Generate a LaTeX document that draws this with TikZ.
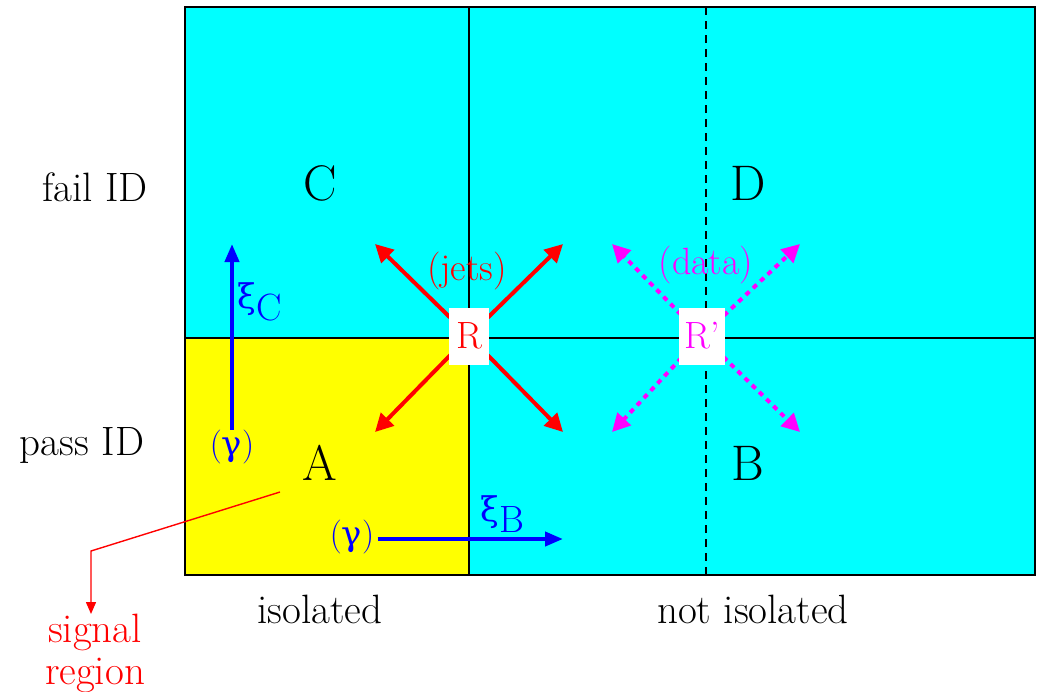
\documentclass[tikz,border=0pt]{standalone}
\usepackage{fontspec}
\newfontfamily\grk{DejaVu Serif}
\usetikzlibrary{arrows.meta}
\definecolor{cy}{RGB}{0,255,255}
\definecolor{ye}{RGB}{255,255,0}
\definecolor{mg}{RGB}{255,0,255}
\definecolor{rd}{RGB}{255,0,0}
\definecolor{bl}{RGB}{0,0,255}
\begin{document}
\begin{tikzpicture}[x=0.5pt,y=-0.5pt,
  every node/.style={inner sep=0pt,font=\fontsize{20.5}{23}\selectfont},
  frame/.style={line width=1.4pt,black},
  big/.style={font=\fontsize{25}{27}\selectfont},
  jarrow/.style={rd,line width=2pt,-{Triangle[length=9pt,width=9pt]}},
  darrow/.style={mg,line width=2pt,dash pattern=on 2.5pt off 2.5pt,-{Triangle[length=9pt,width=9pt]}},
  barrow/.style={bl,line width=2pt,-{Triangle[length=9pt,width=7pt]}},
  rbox/.style={fill=white,minimum width=20pt,minimum height=28.5pt,font=\fontsize{19}{21}\selectfont},
  mid/.style={font=\fontsize{19}{21}\selectfont},
  gam/.style={font=\fontsize{17}{19}\selectfont}]
\useasboundingbox (0,0) rectangle (1043,691);
% fills
\fill[cy] (185,7) rectangle (1035,575);
\fill[ye] (185,338) rectangle (469,575);
% grid
\draw[frame] (185,7) rectangle (1035,575);
\draw[frame] (469,7) -- (469,575);
\draw[frame] (185,338) -- (1035,338);
\draw[black,line width=0.8pt,dash pattern=on 4pt off 3pt] (706,7) -- (706,575);
% region letters
\node[big] (C) at (320,183) {C};
\node[big] (D) at (748,183) {D};
\node[big] (A) at (320,463) {A};
\node[big] (B) at (748,463) {B};
% side labels
\node (fail) at (95,187) {fail ID};
\node (pass) at (82,445) {pass ID};
\node (iso) at (320,609) {isolated};
\node (niso) at (753,609) {not isolated};
% R boxes
\node[rbox] (R) at (469,336) {};
\node[rbox,minimum width=23pt] (Rp) at (702,336) {};
\coordinate (r1) at (375,244);
\coordinate (r2) at (563,244);
\coordinate (r3) at (375,432);
\coordinate (r4) at (563,432);
\coordinate (d1) at (612,244);
\coordinate (d2) at (800,244);
\coordinate (d3) at (612,432);
\coordinate (d4) at (800,432);
\draw[jarrow] (R.center) -- (r1);
\draw[jarrow] (R.center) -- (r2);
\draw[jarrow] (R.center) -- (r3);
\draw[jarrow] (R.center) -- (r4);
\draw[darrow] (Rp.center) -- (d1);
\draw[darrow] (Rp.center) -- (d2);
\draw[darrow] (Rp.center) -- (d3);
\draw[darrow] (Rp.center) -- (d4);
\node[rbox,text=rd] (Rl) at (469,336) {R};
\node[rbox,minimum width=23pt,text=mg] (Rpl) at (702,336) {R'};
\node[mid,text=rd] (jets) at (467,271) {(jets)};
\node[mid,text=mg] (data) at (706,265) {(data)};
% blue arrows
\node[text=bl,gam] (gC) at (232,447) {({\grk γ})};
\coordinate (cTip) at (232,244);
\draw[barrow] (gC.north) -- (cTip);
\node[text=bl,mid,anchor=west] (xiC) at (237,302) {{\grk\fontsize{17}{19}\selectfont ξ}\raisebox{-0.7ex}{C}};
\node[text=bl,gam] (gB) at (352,537) {({\grk γ})};
\coordinate (bTip) at (563,539);
\draw[barrow] (gB.east) ++(3,2) -- (bTip);
\node[text=bl,mid,anchor=west] (xiB) at (480,514) {{\grk\fontsize{17}{19}\selectfont ξ}\raisebox{-0.7ex}{B}};
% signal region
\coordinate (sA) at (280,492);
\coordinate (sK) at (91,551);
\node[text=rd,align=center,anchor=north] (sig) at (95,614) {signal\\[-2pt]region};
\draw[rd,line width=0.7pt,-{Triangle[length=6pt,width=5pt]}] (sA) -- (sK) -- (sig.north -| sK);
\end{tikzpicture}
\end{document}
